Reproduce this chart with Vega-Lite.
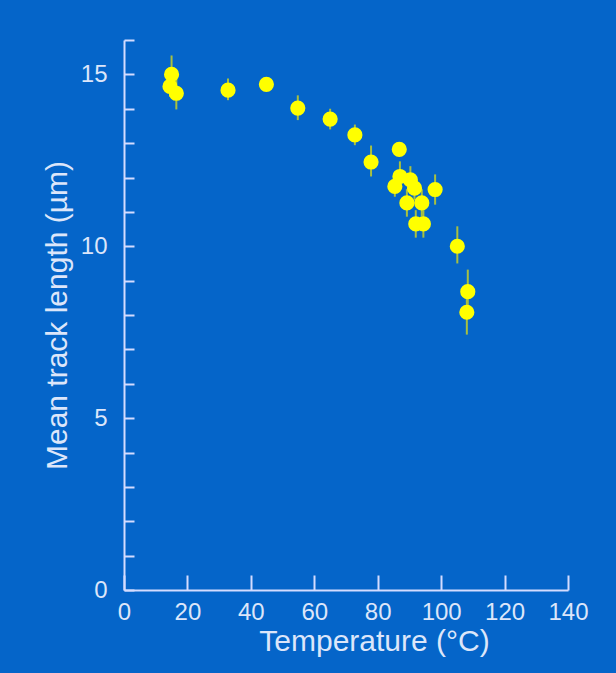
{
  "$schema": "https://vega.github.io/schema/vega-lite/v6.json",
  "width": 444,
  "height": 550,
  "autosize": {"type": "none"},
  "padding": {"left": 124, "top": 40, "right": 48, "bottom": 83},
  "background": "#0565c9",
  "config": {
    "view": {"stroke": null},
    "font": "Liberation Sans",
    "axis": {
      "grid": false,
      "domainColor": "#d4dcff",
      "domainWidth": 2,
      "tickColor": "#d4dcff",
      "tickWidth": 2,
      "labelColor": "#dce6fa",
      "titleColor": "#dce6fa",
      "labelFont": "Liberation Sans",
      "titleFont": "Liberation Sans",
      "labelFontSize": 24,
      "titleFontSize": 30,
      "titleFontWeight": "normal",
      "labelOverlap": false,
      "labelFlush": false
    }
  },
  "data": {
    "values": [
      {"t": 15.0, "len": 15.0, "lo": 14.55, "hi": 15.55},
      {"t": 14.5, "len": 14.65, "lo": 14.35, "hi": 14.95},
      {"t": 16.5, "len": 14.45, "lo": 13.98, "hi": 14.9},
      {"t": 32.8, "len": 14.54, "lo": 14.25, "hi": 14.88},
      {"t": 44.9, "len": 14.71, "lo": 14.56, "hi": 14.86},
      {"t": 54.8, "len": 14.02, "lo": 13.67, "hi": 14.39},
      {"t": 65.0, "len": 13.7, "lo": 13.4, "hi": 14.0},
      {"t": 72.8, "len": 13.24, "lo": 12.94, "hi": 13.54},
      {"t": 77.9, "len": 12.45, "lo": 12.03, "hi": 12.93},
      {"t": 86.8, "len": 12.82, "lo": 12.62, "hi": 13.02},
      {"t": 85.4, "len": 11.74, "lo": 11.44, "hi": 12.04},
      {"t": 87.0, "len": 12.03, "lo": 11.63, "hi": 12.47},
      {"t": 90.3, "len": 11.93, "lo": 11.53, "hi": 12.33},
      {"t": 89.2, "len": 11.26, "lo": 10.86, "hi": 11.66},
      {"t": 91.6, "len": 11.69, "lo": 11.34, "hi": 12.04},
      {"t": 93.9, "len": 11.26, "lo": 10.86, "hi": 11.66},
      {"t": 92.0, "len": 10.65, "lo": 10.25, "hi": 11.05},
      {"t": 94.4, "len": 10.65, "lo": 10.25, "hi": 11.05},
      {"t": 98.1, "len": 11.65, "lo": 11.21, "hi": 12.09},
      {"t": 105.1, "len": 10.0, "lo": 9.5, "hi": 10.58},
      {"t": 108.4, "len": 8.68, "lo": 8.05, "hi": 9.32},
      {"t": 108.1, "len": 8.08, "lo": 7.43, "hi": 8.6}
    ]
  },
  "layer": [
    {
      "mark": {"type": "rule", "color": "#a8c040", "strokeWidth": 2},
      "encoding": {
        "x": {
          "field": "t",
          "type": "quantitative",
          "scale": {"domain": [0, 140], "nice": false, "zero": false},
          "axis": {
            "title": "Temperature (°C)",
            "values": [0, 20, 40, 60, 80, 100, 120, 140],
            "tickSize": -15,
            "labelPadding": 25,
            "titlePadding": 2,
            "titleX": 250
          }
        },
        "y": {
          "field": "lo",
          "type": "quantitative",
          "scale": {"domain": [0, 16], "nice": false},
          "axis": {
            "title": "Mean track length (µm)",
            "values": [0, 1, 2, 3, 4, 5, 6, 7, 8, 9, 10, 11, 12, 13, 14, 15, 16],
            "tickSize": -10,
            "labelPadding": 27,
            "labelExpr": "datum.value % 5 === 0 ? datum.label : ''",
            "titlePadding": 8
          }
        },
        "y2": {"field": "hi"}
      }
    },
    {
      "mark": {"type": "point", "filled": true, "color": "#ffff00", "opacity": 1, "size": 230},
      "encoding": {
        "x": {
          "field": "t",
          "type": "quantitative",
          "scale": {"domain": [0, 140], "nice": false, "zero": false},
          "axis": {
            "title": "Temperature (°C)",
            "values": [0, 20, 40, 60, 80, 100, 120, 140],
            "tickSize": -15,
            "labelPadding": 25,
            "titlePadding": 2,
            "titleX": 250
          }
        },
        "y": {
          "field": "len",
          "type": "quantitative",
          "scale": {"domain": [0, 16], "nice": false},
          "axis": {
            "title": "Mean track length (µm)",
            "values": [0, 1, 2, 3, 4, 5, 6, 7, 8, 9, 10, 11, 12, 13, 14, 15, 16],
            "tickSize": -10,
            "labelPadding": 27,
            "labelExpr": "datum.value % 5 === 0 ? datum.label : ''",
            "titlePadding": 8
          }
        }
      }
    }
  ]
}
